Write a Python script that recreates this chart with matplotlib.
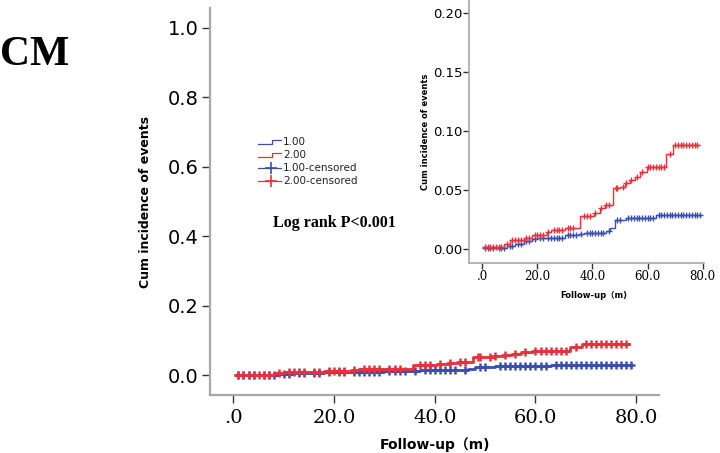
import numpy as np
import matplotlib
matplotlib.use("Agg")
import matplotlib.pyplot as plt
from matplotlib.lines import Line2D

# ─────────────────────────────────────────────
# Data
# ─────────────────────────────────────────────
# group 2.00 (red): event times / cumulative incidence after the step
red_t = [0.5, 8, 10, 15, 18, 23.6, 25, 30, 35.6, 40.4, 42.8, 44.6, 47.6,
         50, 51.8, 53.6, 55.4, 57.2, 59.6, 66.8, 69.2]
red_y = [0.002, 0.005, 0.008, 0.010, 0.012, 0.0146, 0.0166, 0.018, 0.028,
         0.031, 0.035, 0.0376, 0.0517, 0.053, 0.056, 0.0587, 0.061, 0.0657,
         0.070, 0.081, 0.0885]
red_end = 78.5
red_cens = [1, 2, 3, 4, 5, 6, 7, 9, 11, 12, 13, 14, 16, 17, 19, 20, 21, 22,
            24, 26, 27, 28, 29, 31, 32, 33, 37, 38, 39, 41, 43, 45, 46, 48.5,
            49, 51, 52, 54, 56, 58, 60, 61, 62, 63, 64, 65, 66, 68, 70, 71,
            72, 73, 74, 75, 76, 77, 78]

# group 1.00 (blue)
blue_t = [0.5, 9, 12, 15, 18, 20, 30, 35, 37, 45, 46.5, 48, 52, 63]
blue_y = [0.001, 0.003, 0.005, 0.007, 0.009, 0.010, 0.012, 0.013, 0.014,
          0.016, 0.018, 0.025, 0.027, 0.0295]
blue_end = 79
blue_cens = [1, 2, 3, 4, 6, 7, 8, 10, 11, 13, 14, 16, 17, 19, 21, 22, 24, 25,
             26, 27, 28, 29, 31, 32, 33, 34, 36, 38, 39, 40, 41, 42, 43, 44,
             46, 49, 50, 53, 54, 55, 56, 57, 58, 59, 60, 61, 62, 64, 65, 66,
             67, 68, 69, 70, 71, 72, 73, 74, 75, 76, 77, 78, 79]

main_yticks = [0.0, 0.2, 0.4, 0.6, 0.8, 1.0]
inset_yticks = [0.00, 0.05, 0.10, 0.15, 0.20]
xticks = [0, 20, 40, 60, 80]
xtick_labels = [".0", "20.0", "40.0", "60.0", "80.0"]
legend_labels = ["1.00", "2.00", "1.00-censored", "2.00-censored"]

RED = "#e8313c"
BLUE = "#3a4fae"
SPINE = "#a8a8a8"
SANS = ["DejaVu Sans", "Noto Sans CJK SC"]
SERIF = "DejaVu Serif"


def step_xy(t, y, end):
    xs = np.append(t, end)
    ys = np.append(y, y[-1])
    return xs, ys


def cens_y(t, y, cens):
    idx = np.searchsorted(t, cens, side="right") - 1
    return np.asarray(y)[np.clip(idx, 0, None)]


def draw_curves(ax, lw, ms, mew):
    for t, y, end, cens, col in [(blue_t, blue_y, blue_end, blue_cens, BLUE),
                                 (red_t, red_y, red_end, red_cens, RED)]:
        xs, ys = step_xy(t, y, end)
        ax.step(xs, ys, where="post", color=col, lw=lw)
        ax.plot(cens, cens_y(t, y, cens), ls="none", marker="+",
                color=col, ms=ms, mew=mew)


def style_axes(ax, spine_w, tick_len):
    for s in ["top", "right"]:
        ax.spines[s].set_visible(False)
    for s in ["left", "bottom"]:
        ax.spines[s].set_color(SPINE)
        ax.spines[s].set_linewidth(spine_w)
    ax.tick_params(direction="out", length=tick_len, width=1, color="#333333")


fig = plt.figure(figsize=(7.2, 4.53), dpi=100)

# ── main axes ──────────────────────────────────
ax = fig.add_axes([0.291, 0.128, 0.624, 0.854])
draw_curves(ax, lw=2.0, ms=6, mew=1.8)
ax.set_xlim(-4.75, 84.5)
ax.set_ylim(-0.057, 1.057)
ax.set_yticks(main_yticks)
ax.set_yticklabels([f"{v:.1f}" for v in main_yticks], family=SANS, fontsize=14)
ax.set_xticks(xticks)
ax.set_xticklabels(xtick_labels, family=SERIF, fontsize=14)
style_axes(ax, 1.6, 6)
ax.tick_params(axis="y", pad=2)
ax.tick_params(axis="x", pad=4)
ax.set_ylabel("Cum incidence of events", family=SANS, fontsize=9,
              fontweight="bold")
ax.yaxis.set_label_coords(-0.127, 0.5)
ax.set_xlabel("Follow-up（m)", family=SANS, fontsize=10, fontweight="bold")
ax.xaxis.set_label_coords(0.502, -0.108)

# ── inset ──────────────────────────────────────
axi = fig.add_axes([0.652, 0.420, 0.326, 0.580])
draw_curves(axi, lw=1.0, ms=4.5, mew=1.0)
axi.set_xlim(-4.6, 80.5)
axi.set_ylim(-0.0112, 0.211)
axi.set_yticks(inset_yticks)
axi.set_yticklabels([f"{v:.2f}" for v in inset_yticks], family=SANS, fontsize=9.5)
axi.set_xticks(xticks)
axi.set_xticklabels(xtick_labels, family=SERIF, fontsize=8.5)
style_axes(axi, 1.2, 4)
axi.tick_params(pad=1)
axi.set_ylabel("Cum incidence of events", family=SANS, fontsize=6,
               fontweight="bold")
axi.yaxis.set_label_coords(-0.17, 0.5)
axi.set_xlabel("Follow-up（m)", family=SANS, fontsize=6, fontweight="bold")
axi.xaxis.set_label_coords(0.528, -0.108)

# ── legend (SPSS style, drawn by hand) ─────────
row_y = [1 - 141.7 / 453, 1 - 154.7 / 453, 1 - 167.7 / 453, 1 - 180.7 / 453]
x0, xs, x1 = 258 / 720, 272 / 720, 281 / 720
cols = [BLUE, RED, BLUE, RED]
for i, (lab, yy, c) in enumerate(zip(legend_labels, row_y, cols)):
    if i < 2:
        d = 2.2 / 453
        fig.add_artist(Line2D([x0, xs, xs, x1], [yy - d, yy - d, yy + d, yy + d],
                              transform=fig.transFigure, color=c, lw=0.9))
    else:
        fig.add_artist(Line2D([x0, x1], [yy, yy], transform=fig.transFigure,
                              color=c, lw=0.9))
        fig.add_artist(Line2D([(x0 + x1) / 2 + 1 / 720], [yy], marker="+",
                              transform=fig.transFigure, color=c, ms=8, mew=1.2))
    fig.text(x1 + 2 / 720, yy, lab, family=SANS, fontsize=7.5,
             ha="left", va="center", color="#222222")

fig.text(0.379, 0.508, "Log rank P<0.001", family="Liberation Serif",
         fontsize=11.5, fontweight="bold", ha="left", va="center")
fig.text(0.0, 0.879, "CM", family="Liberation Serif", fontsize=30,
         fontweight="bold", ha="left", va="center")

fig.savefig("out.png", dpi=100)
